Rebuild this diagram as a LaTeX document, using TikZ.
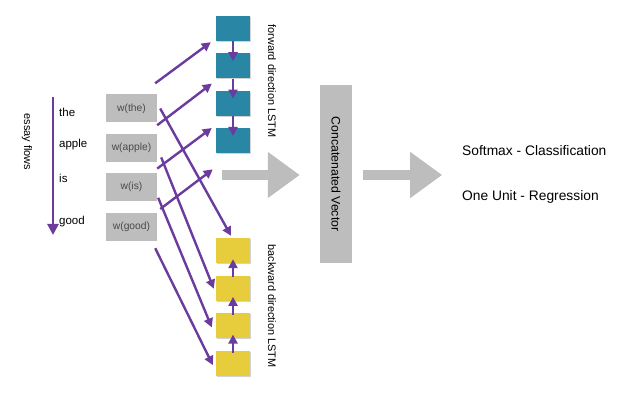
\documentclass[tikz,border=0pt]{standalone}
\usepackage{fontspec}
\setmainfont{Liberation Sans}
\usepackage{tikz}
\usetikzlibrary{arrows.meta}
\usetikzlibrary{calc}
\usetikzlibrary{positioning}
\usetikzlibrary{shadows}
\definecolor{lstmblue}{HTML}{2A86A5}
\definecolor{lstmyellow}{HTML}{E7CD3B}
\definecolor{flowpurple}{HTML}{6B3C9E}
\definecolor{boxgray}{HTML}{BDBDBD}
\definecolor{wordgray}{HTML}{4A4A4A}

\begin{document}
\begin{tikzpicture}[x=1pt,y=-1pt,>={Triangle[length=9pt,width=9pt]}]
\tikzstyle{word} = [anchor=west, inner sep=0pt, font=\fontsize{11.5}{13}\selectfont]
\tikzstyle{embed} = [fill=boxgray, minimum width=51pt, minimum height=28pt, inner sep=0pt, text=wordgray, font=\fontsize{10.3}{12}\selectfont, node distance=11pt]
\tikzstyle{fwcell} = [fill=lstmblue, minimum width=34pt, minimum height=25pt, drop shadow={shadow xshift=1pt, shadow yshift=-1pt, opacity=0.35}, node distance=12pt]
\tikzstyle{bwcell} = [fill=lstmyellow, minimum width=34pt, minimum height=25pt, drop shadow={shadow xshift=1pt, shadow yshift=-1pt, opacity=0.35}, node distance=12.3pt]
\tikzstyle{flow} = [->, draw=flowpurple, line width=2.4pt]
\tikzstyle{chain} = [->, draw=flowpurple, line width=2.7pt]
\tikzstyle{sidelabel} = [rotate=-90, inner sep=0pt, font=\fontsize{10.9}{12}\selectfont]
\tikzstyle{bigarrow} = [draw=boxgray, line width=10pt, -{Triangle[length=32pt,width=44pt]}]
\tikzstyle{outtext} = [anchor=west, inner sep=0pt, font=\fontsize{13.8}{16}\selectfont]

\useasboundingbox (0,0) rectangle (643,403);

\node[sidelabel, font=\fontsize{11}{12}\selectfont] (EF) at (27,142) {essay flows};
\coordinate (E0) at (53,97);
\coordinate (E1) at (53,235);
\draw[flow, line width=2.6pt, -{Triangle[length=11pt,width=11pt]}] (E0) -- (E1);

\node[word] (T0) at (59,112) {the};
\node[word] (T1) at (59,145) {apple};
\node[word] (T2) at (59,178) {is};
\node[word] (T3) at (59,222) {good};

\node[embed] (W0) at (131.5,108.5) {w(the)};
\node[embed] (W1) [below = of W0] {w(apple)};
\node[embed] (W2) [below = of W1] {w(is)};
\node[embed] (W3) [below = of W2] {w(good)};

\node[fwcell] (FW0) at (233,28.5) {};
\node[fwcell] (FW1) [below = of FW0] {};
\node[fwcell] (FW2) [below = of FW1] {};
\node[fwcell] (FW3) [below = of FW2] {};

\node[bwcell] (BW0) at (233,250.5) {};
\node[bwcell] (BW1) [below = of BW0] {};
\node[bwcell] (BW2) [below = of BW1] {};
\node[bwcell] (BW3) [below = of BW2] {};

\node[sidelabel] (FL) at (272,81) {forward direction LSTM};
\node[sidelabel] (BL) at (272,306) {backward direction LSTM};

\foreach \i/\j in {0/1,1/2,2/3}
  \draw[chain] (FW\i.south) -- ($(FW\j.north)+(0,8)$);
\foreach \i/\j in {0/1,1/2,2/3}
  \draw[chain] ($(BW\j.north)+(0,2)$) -- ($(BW\i.south)+(0,-4)$);

\draw[flow] ($(W0.north east)+(-2,-11)$) -- ($(FW0.south west)+(-5,1)$);
\draw[flow] ($(W1.north east)+(0,-8.5)$) -- ($(FW1.south west)+(-4,5)$);
\draw[flow] ($(W2.north east)+(0,-4.5)$) -- ($(FW2.south west)+(-4,12)$);
\draw[flow] ($(W3.north east)+(3,-3.5)$) -- ($(FW3.south west)+(-3,16)$);

\draw[flow] ($(W0.east)+(3,0)$) -- ($(BW0.north)+(-2,-2)$);
\draw[flow] ($(W1.east)+(4,9.5)$) -- ($(BW1.west)+(-2,0.5)$);
\draw[flow] ($(W2.east)+(1,10.5)$) -- ($(BW2.west)+(-4,1.5)$);
\draw[flow] ($(W3.east)+(-2,21.5)$) -- ($(BW3.west)+(-3,1.5)$);

\node[fill=boxgray, rotate=-90, minimum width=178pt, minimum height=32pt, inner sep=0pt, font=\fontsize{12.3}{14}\selectfont] (CV) at (336,174) {Concatenated Vector};

\coordinate (A1) at (222,175);
\draw[bigarrow] (A1) -- ($(A1 -| CV.south)+(-20,0)$);
\coordinate (A2) at ($(CV.north)+(11,1)$);
\draw[bigarrow] (A2) -- ++(79,0);

\node[outtext] (SM) at (462,151) {Softmax - Classification};
\node[outtext] (RG) at (462,197) {One Unit - Regression};
\end{tikzpicture}
\end{document}
